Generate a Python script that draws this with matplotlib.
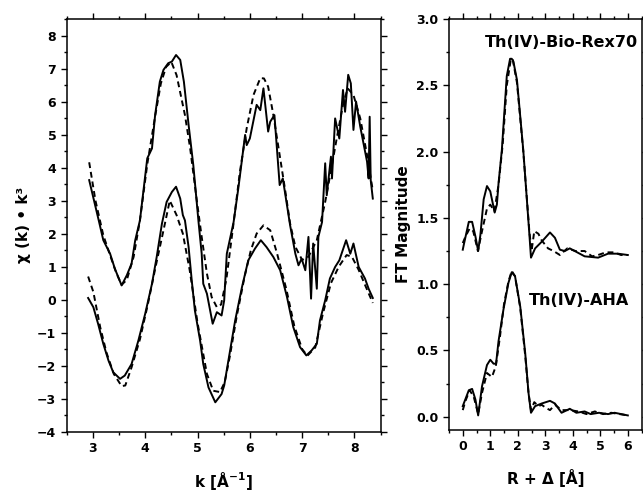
import matplotlib.pyplot as plt
from matplotlib.ticker import MultipleLocator, FormatStrFormatter

plt.rcParams['font.family'] = ['DejaVu Sans']
plt.rcParams['font.weight'] = 'bold'

# chi(k)*k^3 , Th(IV)-Bio-Rex70 (shifted up)
k_rex_data = [2.93, 3.12, 3.20, 3.33, 3.42, 3.55, 3.65, 3.74, 3.81, 3.90, 4.04, 4.13, 4.19, 4.28, 4.35,
              4.44, 4.51, 4.59, 4.67, 4.74, 4.83, 4.92, 5.02, 5.08, 5.11, 5.18, 5.29, 5.37, 5.46, 5.51,
              5.56, 5.69, 5.78, 5.91, 5.94, 6.00, 6.13, 6.20, 6.26, 6.35, 6.39, 6.47, 6.57, 6.63, 6.77,
              6.87, 6.93, 6.99, 7.06, 7.12, 7.17, 7.21, 7.28, 7.31, 7.38, 7.44, 7.47, 7.55, 7.57, 7.63,
              7.71, 7.78, 7.82, 7.88, 7.93, 7.98, 8.03, 8.11, 8.24, 8.27, 8.29, 8.31, 8.35]
chi_rex_data = [3.62, 2.35, 1.80, 1.39, 0.94, 0.43, 0.74, 1.09, 1.80, 2.40, 4.28, 4.58, 5.59, 6.60, 6.96,
                7.16, 7.21, 7.41, 7.26, 6.60, 5.29, 4.07, 2.35, 1.39, 0.48, 0.18, -0.73, -0.38, -0.48, -0.02,
                1.39, 2.35, 3.37, 4.99, 4.68, 4.88, 5.90, 5.74, 6.40, 5.09, 5.39, 5.59, 3.47, 3.67, 2.25,
                1.39, 1.04, 1.24, 0.89, 1.90, 0.03, 1.70, 0.33, 1.90, 2.35, 4.13, 3.16, 4.33, 3.67, 5.49,
                4.88, 6.35, 5.69, 6.81, 6.55, 5.14, 6.00, 5.24, 4.18, 3.67, 5.54, 3.62, 3.06]
k_rex_fit = [2.93, 3.05, 3.20, 3.35, 3.45, 3.55, 3.65, 3.78, 3.90, 4.04, 4.19, 4.30, 4.40, 4.50, 4.60,
             4.76, 4.86, 4.99, 5.08, 5.18, 5.27, 5.37, 5.45, 5.55, 5.68, 5.81, 5.94, 6.07, 6.20, 6.27,
             6.35, 6.45, 6.55, 6.67, 6.77, 6.87, 7.00, 7.12, 7.28, 7.44, 7.55, 7.66, 7.78, 7.87, 7.98,
             8.11, 8.24, 8.35]
chi_rex_fit = [4.16, 3.00, 1.95, 1.25, 0.80, 0.45, 0.60, 1.30, 2.40, 4.10, 5.55, 6.55, 7.05, 7.20, 6.80,
               5.59, 4.58, 2.96, 1.90, 0.79, 0.08, -0.23, -0.15, 0.60, 2.20, 3.87, 5.19, 6.20, 6.71, 6.70,
               6.45, 5.59, 4.58, 3.37, 2.30, 1.60, 1.20, 1.30, 1.80, 2.96, 3.90, 4.88, 5.90, 6.40, 6.20,
               5.49, 4.38, 3.30]

# chi(k)*k^3 , Th(IV)-AHA
k_aha_data = [2.91, 3.01, 3.10, 3.20, 3.30, 3.39, 3.52, 3.61, 3.74, 3.87, 4.00, 4.13, 4.22, 4.32, 4.41,
              4.51, 4.59, 4.67, 4.72, 4.76, 4.83, 4.89, 4.95, 5.05, 5.11, 5.21, 5.34, 5.46, 5.51, 5.59,
              5.72, 5.85, 5.97, 6.10, 6.21, 6.32, 6.45, 6.58, 6.71, 6.83, 6.96, 7.08, 7.18, 7.28, 7.34,
              7.44, 7.53, 7.63, 7.71, 7.84, 7.92, 7.98, 8.08, 8.20, 8.27, 8.35]
chi_aha_data = [0.05, -0.23, -0.73, -1.34, -1.85, -2.20, -2.40, -2.30, -1.95, -1.24, -0.43, 0.48, 1.29, 2.30, 2.96,
                3.26, 3.42, 3.06, 2.56, 2.40, 1.59, 0.58, -0.33, -1.24, -1.95, -2.66, -3.11, -2.86, -2.60, -1.85,
                -0.63, 0.38, 1.19, 1.55, 1.80, 1.59, 1.29, 0.89, 0.08, -0.83, -1.44, -1.69, -1.54, -1.34, -0.63,
                -0.02, 0.64, 0.99, 1.19, 1.80, 1.39, 1.70, 0.99, 0.64, 0.33, 0.05]
k_aha_fit = [2.91, 3.01, 3.14, 3.26, 3.40, 3.55, 3.62, 3.74, 3.90, 4.05, 4.20, 4.35, 4.47, 4.60, 4.72,
             4.85, 5.00, 5.18, 5.30, 5.43, 5.52, 5.62, 5.75, 5.90, 6.02, 6.13, 6.26, 6.39, 6.52, 6.70,
             6.85, 7.00, 7.10, 7.25, 7.40, 7.55, 7.70, 7.85, 7.95, 8.08, 8.20, 8.35]
chi_aha_fit = [0.70, 0.23, -0.83, -1.60, -2.25, -2.62, -2.60, -2.05, -1.20, -0.15, 1.00, 2.10, 3.00, 2.56, 2.00,
               0.90, -0.70, -2.25, -2.76, -2.80, -2.50, -1.70, -0.50, 0.70, 1.50, 2.00, 2.25, 2.10, 1.40, 0.30,
               -0.80, -1.50, -1.70, -1.45, -0.40, 0.50, 1.00, 1.35, 1.30, 0.90, 0.45, -0.10]

# FT magnitude, Th(IV)-Bio-Rex70 (shifted up)
r_rex_data = [0.00, 0.04, 0.22, 0.34, 0.46, 0.56, 0.64, 0.76, 0.88, 1.00, 1.16, 1.24, 1.30, 1.42, 1.60,
              1.72, 1.78, 1.84, 1.97, 2.20, 2.42, 2.48, 2.63, 2.87, 3.17, 3.35, 3.53, 3.71, 3.89, 4.07,
              4.43, 4.92, 5.28, 5.64, 6.00]
ft_rex_data = [1.26, 1.30, 1.47, 1.47, 1.36, 1.25, 1.37, 1.64, 1.74, 1.70, 1.54, 1.60, 1.76, 2.01, 2.57,
               2.70, 2.70, 2.68, 2.54, 2.01, 1.38, 1.20, 1.27, 1.32, 1.39, 1.35, 1.26, 1.25, 1.27, 1.25,
               1.21, 1.20, 1.23, 1.23, 1.22]
r_rex_fit = [0.00, 0.10, 0.25, 0.38, 0.55, 0.70, 0.88, 1.00, 1.15, 1.30, 1.45, 1.60, 1.75, 1.82, 1.97,
             2.20, 2.42, 2.50, 2.60, 2.75, 2.87, 3.10, 3.30, 3.53, 3.80, 4.10, 4.43, 4.70, 4.92, 5.20,
             5.50, 5.75, 6.00]
ft_rex_fit = [1.31, 1.36, 1.42, 1.40, 1.25, 1.40, 1.57, 1.60, 1.55, 1.75, 2.05, 2.50, 2.70, 2.69, 2.52,
              2.00, 1.40, 1.25, 1.40, 1.38, 1.33, 1.27, 1.25, 1.22, 1.27, 1.25, 1.25, 1.21, 1.22, 1.24,
              1.24, 1.22, 1.22]

# FT magnitude, Th(IV)-AHA
r_aha_data = [0.00, 0.22, 0.34, 0.46, 0.56, 0.70, 0.88, 1.00, 1.12, 1.21, 1.30, 1.48, 1.66, 1.78, 1.90,
              2.09, 2.27, 2.39, 2.48, 2.63, 2.87, 3.17, 3.35, 3.59, 3.89, 4.13, 4.43, 4.65, 4.95, 5.28,
              5.52, 5.76, 6.00]
ft_aha_data = [0.08, 0.20, 0.21, 0.13, 0.01, 0.23, 0.39, 0.43, 0.40, 0.40, 0.57, 0.81, 1.01, 1.09, 1.06,
               0.83, 0.48, 0.18, 0.03, 0.08, 0.10, 0.12, 0.10, 0.03, 0.06, 0.03, 0.04, 0.02, 0.03, 0.02,
               0.03, 0.02, 0.01]
r_aha_fit = [0.00, 0.10, 0.25, 0.40, 0.56, 0.70, 0.88, 1.06, 1.20, 1.35, 1.50, 1.66, 1.78, 1.90, 2.09,
             2.27, 2.39, 2.48, 2.60, 2.75, 2.87, 3.00, 3.17, 3.35, 3.60, 3.90, 4.20, 4.50, 4.80, 5.10,
             5.40, 5.70, 6.00]
ft_aha_fit = [0.05, 0.12, 0.20, 0.15, 0.02, 0.18, 0.33, 0.30, 0.38, 0.60, 0.85, 1.02, 1.10, 1.06, 0.82,
              0.46, 0.18, 0.05, 0.11, 0.08, 0.09, 0.07, 0.05, 0.09, 0.05, 0.05, 0.04, 0.02, 0.04, 0.02,
              0.03, 0.02, 0.01]

LW = 1.4
DASH = (3, 2)

fig = plt.figure(figsize=(6.43, 4.95), dpi=100)
ax1 = fig.add_axes([0.1037, 0.1279, 0.4883, 0.8337])
ax2 = fig.add_axes([0.6983, 0.1313, 0.2995, 0.8303])

# left: chi(k)
ax1.plot(k_rex_data, chi_rex_data, color='black', lw=LW)
ax1.plot(k_rex_fit, chi_rex_fit, color='black', lw=LW, dashes=DASH)
ax1.plot(k_aha_data, chi_aha_data, color='black', lw=LW)
ax1.plot(k_aha_fit, chi_aha_fit, color='black', lw=LW, dashes=DASH)
ax1.set_xlim(2.5, 8.5)
ax1.set_ylim(-4, 8.5)
ax1.xaxis.set_major_locator(MultipleLocator(1))
ax1.xaxis.set_minor_locator(MultipleLocator(0.5))
ax1.yaxis.set_major_locator(MultipleLocator(1))
ax1.yaxis.set_minor_locator(MultipleLocator(0.5))
ax1.set_xlabel('k [Å$^{\\mathbf{-1}}$]', fontsize=11, fontweight='bold', labelpad=11)
ax1.set_ylabel('χ (k) • k³', fontsize=11, fontweight='bold')

# right: FT
ax2.plot(r_rex_data, ft_rex_data, color='black', lw=LW)
ax2.plot(r_rex_fit, ft_rex_fit, color='black', lw=LW, dashes=DASH)
ax2.plot(r_aha_data, ft_aha_data, color='black', lw=LW)
ax2.plot(r_aha_fit, ft_aha_fit, color='black', lw=LW, dashes=DASH)
ax2.set_xlim(-0.5, 6.5)
ax2.set_ylim(-0.1, 3.0)
ax2.xaxis.set_major_locator(MultipleLocator(1))
ax2.xaxis.set_minor_locator(MultipleLocator(0.5))
ax2.yaxis.set_major_locator(MultipleLocator(0.5))
ax2.yaxis.set_minor_locator(MultipleLocator(0.25))
ax2.yaxis.set_major_formatter(FormatStrFormatter('%.1f'))
ax2.set_xlabel('R + Δ [Å]', fontsize=11, fontweight='bold', labelpad=11)
ax2.set_ylabel('FT Magnitude', fontsize=11, fontweight='bold')
ax2.text(3.6, 2.82, 'Th(IV)-Bio-Rex70', fontsize=11.5, fontweight='bold', ha='center', va='center')
ax2.text(4.22, 0.88, 'Th(IV)-AHA', fontsize=11.5, fontweight='bold', ha='center', va='center')

for ax in [ax1, ax2]:
    for sp in ax.spines.values():
        sp.set_linewidth(1.1)
    ax.tick_params(which='both', direction='out', top=True, right=True, width=1.0, labelsize=9)
    ax.tick_params(which='major', length=4)
    ax.tick_params(which='minor', length=2.5)
    for lbl in ax.get_xticklabels() + ax.get_yticklabels():
        lbl.set_fontweight('bold')

plt.savefig('out.png', dpi=100)
